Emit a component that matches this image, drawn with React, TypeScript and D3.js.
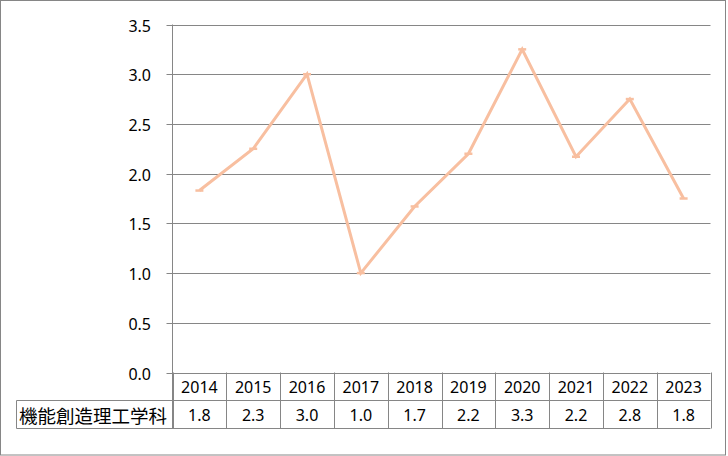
import React from "react";
import * as d3 from "d3";

const categories = ["2014", "2015", "2016", "2017", "2018", "2019", "2020", "2021", "2022", "2023"];
const values = [1.83, 2.25, 3.0, 1.0, 1.67, 2.2, 3.25, 2.17, 2.75, 1.75];
const tableLabels = ["1.8", "2.3", "3.0", "1.0", "1.7", "2.2", "3.3", "2.2", "2.8", "1.8"];
const seriesName = "機能創造理工学科";
const yTicks = [0, 0.5, 1.0, 1.5, 2.0, 2.5, 3.0, 3.5];

const W = 728;
const H = 456;
const left = 172.5;
const right = 710.5;
const top = 24.5;
const bottom = 372.5;
const row1 = 400.5;
const row2 = 428.5;
const labelLeft = 16.5;

const gridColor = "#868686";
const lineColor = "#F8BFA0";
const numFont = "'Noto Sans', 'DejaVu Sans', sans-serif";
const cjkFont = "'Noto Sans CJK JP', sans-serif";

export default function App() {
  const x = d3.scaleBand<string>().domain(categories).range([left, right]).padding(0);
  const y = d3.scaleLinear().domain([0, 3.5]).range([bottom, top]);
  const cx = (c: string) => (x(c) as number) + x.bandwidth() / 2;
  const line = d3
    .line<number>()
    .x((_, i) => cx(categories[i]))
    .y((v) => y(v));

  const bounds = categories.map((c) => x(c) as number).concat([right]);

  return (
    <svg
      width={W}
      height={H}
      style={{ position: "fixed", left: 0, top: 0, background: "#fff" }}
    >
      <rect x={0.5} y={0.5} width={725} height={454.5} fill="#fff" stroke={gridColor} strokeWidth={1} />
      {/* gridlines and y ticks */}
      {yTicks.map((t) => (
        <g key={t}>
          <line x1={left - 6} x2={right} y1={Math.round(y(t)) + 0.5} y2={Math.round(y(t)) + 0.5} stroke={gridColor} strokeWidth={1} />
          <text
            x={151}
            y={Math.round(y(t)) + 0.5}
            textAnchor="end"
            dominantBaseline="central"
            fontFamily={numFont}
            fontSize={16}
            fill="#000"
          >
            {t.toFixed(1)}
          </text>
        </g>
      ))}
      {/* y axis line */}
      <line x1={left} x2={left} y1={top} y2={row2} stroke={gridColor} strokeWidth={1} />
      {/* data table */}
      {bounds.map((b, i) => (
        <line key={"v" + i} x1={Math.round(b) + 0.5} x2={Math.round(b) + 0.5} y1={bottom} y2={row2} stroke={gridColor} strokeWidth={1} />
      ))}
      <line x1={labelLeft} x2={right} y1={row1} y2={row1} stroke={gridColor} strokeWidth={1} />
      <line x1={labelLeft} x2={right} y1={row2} y2={row2} stroke={gridColor} strokeWidth={1} />
      <line x1={labelLeft} x2={labelLeft} y1={row1} y2={row2} stroke={gridColor} strokeWidth={1} />
      {categories.map((c) => (
        <text
          key={"h" + c}
          x={cx(c)}
          y={(bottom + row1) / 2 + 0.5}
          textAnchor="middle"
          dominantBaseline="central"
          fontFamily={numFont}
          fontSize={16}
          fill="#000"
        >
          {c}
        </text>
      ))}
      {categories.map((c, i) => (
        <text
          key={"d" + c}
          x={cx(c)}
          y={(row1 + row2) / 2 + 0.5}
          textAnchor="middle"
          dominantBaseline="central"
          fontFamily={numFont}
          fontSize={16}
          fill="#000"
        >
          {tableLabels[i]}
        </text>
      ))}
      <text
        x={19}
        y={(row1 + row2) / 2 + 0.5}
        dominantBaseline="central"
        fontFamily={cjkFont}
        fontSize={18.5}
        fill="#000"
      >
        {seriesName}
      </text>
      {/* series line */}
      <path d={line(values) || ""} fill="none" stroke={lineColor} strokeWidth={3} strokeLinejoin="miter" />
      {values.map((v, i) => (
        <line
          key={"m" + i}
          x1={cx(categories[i]) - 4}
          x2={cx(categories[i]) + 4}
          y1={y(v)}
          y2={y(v)}
          stroke={lineColor}
          strokeWidth={2.5}
        />
      ))}
    </svg>
  );
}
